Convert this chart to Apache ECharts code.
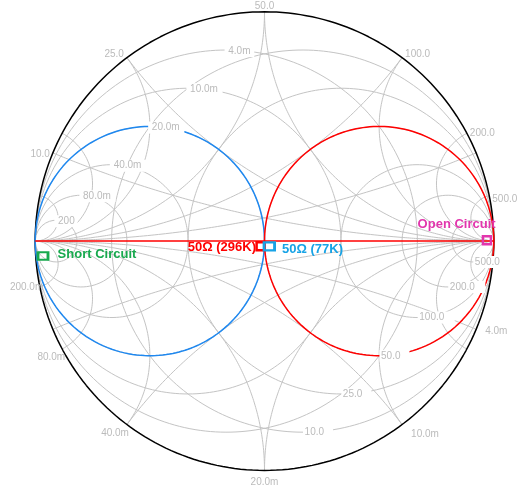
<!DOCTYPE html>
<html><head><meta charset="utf-8">
<script src="https://cdn.jsdelivr.net/npm/echarts@6/dist/echarts.min.js"></script>
<style>html,body{margin:0;padding:0;background:#fff;}#c{width:517px;height:489px;}</style>
</head><body><div id="c"></div>
<script>
// ---- data ----
const Z0 = 50;
const resistanceOhms = [10, 25, 50, 100, 200, 500];
const resistanceLabels = ['10.0', '25.0', '50.0', '100.0', '200.0', '500.0'];
const reactanceOhms = [10, 25, 50, 100, 200, 500];
const reactanceLabels = ['10.0', '25.0', '50.0', '100.0', '200.0', '500.0'];
const conductanceMilliS = [4, 10, 20, 40, 80, 200];
const conductanceLabels = ['4.0m', '10.0m', '20.0m', '40.0m', '80.0m', '200'];
const susceptanceMilliS = [4, 10, 20, 40, 80, 200];
const susceptanceLabels = ['4.0m', '10.0m', '20.0m', '40.0m', '80.0m', '200.0m'];

const redTraceResistanceOhms = 50;      // constant-R locus (red)
const redAxisResistanceOhms = [0, 1e12]; // real-axis sweep, short -> open (red)
const blueTraceConductanceMilliS = 20;  // constant-G locus (blue)

const markerNames = ['Short Circuit', 'Open Circuit', '50Ω (296K)', '50Ω (77K)'];
const markerGamma = [[-0.966, -0.065], [0.970, 0.004], [-0.017, -0.022], [0.021, -0.023]];

// ---- styles ----
const GRID = '#c4c4c4', LBL = '#bbbbbb', FONT = 'Liberation Sans, Arial, sans-serif';
const markerStyles = [
  {color: '#18a94e', size: [10, 7.5], align: 'left', offset: [14.6, -1.7]},
  {color: '#e236ad', size: [8, 8], align: 'center', offset: [-30.3, -15.3]},
  {color: '#ff0000', size: [8, 8], align: 'right', offset: [-4.6, 1.2]},
  {color: '#17a3e6', size: [10.5, 8], align: 'left', offset: [12.7, 2.9]}
];
const bottomNudge = [[9, 1.7], [9, 9.7], [0, 11.5], [2, 8.7], [3, 8.7], [3.5, 1.2]];

// ---- Smith transforms ----
const Y0m = 1000 / Z0;
function gz(r, x) { const d = (r + 1) * (r + 1) + x * x; return [(r * r - 1 + x * x) / d, 2 * x / d]; }
function gy(g, b) { const p = gz(g, b); return [-p[0], -p[1]]; }
const N = 240;
function constReal(fn, a) {
  const pts = [];
  for (let k = 0; k <= N; k++) {
    const phi = -Math.PI / 2 + Math.PI * k / N;
    const im = k === 0 ? -1e12 : (k === N ? 1e12 : Math.tan(phi));
    pts.push(fn(a, im));
  }
  return pts;
}
function constImag(fn, b) {
  const pts = [];
  for (let k = 0; k <= N; k++) {
    const t = Math.PI / 2 * k / N;
    pts.push(fn(k === N ? 1e12 : Math.tan(t), b));
  }
  return pts;
}
function line(data, color, width, z) {
  return {type: 'line', data, showSymbol: false, symbol: 'none', silent: true, animation: false,
    clip: false, z, lineStyle: {color, width, opacity: 1}};
}

const series = [];
resistanceOhms.forEach(v => series.push(line(constReal(gz, v / Z0), GRID, 1, 1)));
reactanceOhms.forEach(v => { series.push(line(constImag(gz, v / Z0), GRID, 1, 1)); series.push(line(constImag(gz, -v / Z0), GRID, 1, 1)); });
conductanceMilliS.forEach(v => series.push(line(constReal(gy, v / Y0m), GRID, 1, 1)));
susceptanceMilliS.forEach(v => { series.push(line(constImag(gy, v / Y0m), GRID, 1, 1)); series.push(line(constImag(gy, -v / Y0m), GRID, 1, 1)); });
// outer boundary r = 0
series.push(line(constReal(gz, 0), '#000000', 1.5, 2));
// traces
series.push(line(constReal(gy, blueTraceConductanceMilliS / Y0m), '#1e88f0', 1.5, 3));
series.push(line(constReal(gz, redTraceResistanceOhms / Z0), '#ff0000', 1.5, 3));
series.push(line(redAxisResistanceOhms.map(r => gz(r / Z0, 0)), '#ff0000', 1.5, 3));

// inner labels (white boxes)
const inner = [];
conductanceMilliS.forEach((v, i) => {
  const g = v / Y0m; const txt = conductanceLabels[i];
  inner.push({name: txt, value: gy(g, -(1 + g)),
    label: {align: 'left', offset: [-1.7, 1], padding: [1, 0, 1, 3.7], width: 6.5 * txt.length}});
});
resistanceOhms.forEach((v, i) => {
  const r = v / Z0; const txt = resistanceLabels[i];
  inner.push({name: txt, value: gz(r, -(1 + r)),
    label: {align: 'left', offset: [0.3, 0], padding: [1, 0, 1, 1.6], width: 7.1 * txt.length}});
});
// outer labels
const outer = [];
reactanceOhms.forEach((v, i) => {
  const p = gz(0, v / Z0); const a = Math.atan2(p[1], p[0]); const c = Math.cos(a), s = Math.sin(a);
  const align = c < -0.1 ? 'right' : (c > 0.1 ? 'left' : 'center');
  const dx = align === 'right' ? -3 : (align === 'left' ? 3 : 0);
  outer.push({name: reactanceLabels[i], value: p, label: {align, offset: [dx, 6 - 12 * s]}});
});
susceptanceMilliS.forEach((v, i) => {
  const p = gy(0, v / Y0m); const c = p[0];
  const align = c < -0.1 ? 'right' : (c > 0.1 ? 'left' : 'center');
  outer.push({name: susceptanceLabels[i], value: p, label: {align, offset: bottomNudge[i]}});
});
const lblBase = {show: true, position: 'inside', formatter: '{b}', color: LBL, fontSize: 10, fontFamily: FONT, verticalAlign: 'middle'};
series.push({type: 'scatter', data: inner, symbolSize: 1, silent: true, animation: false, clip: false, z: 5,
  itemStyle: {color: 'rgba(0,0,0,0)', opacity: 1}, label: Object.assign({}, lblBase, {backgroundColor: '#ffffff'})});
series.push({type: 'scatter', data: outer, symbolSize: 1, silent: true, animation: false, clip: false, z: 6,
  itemStyle: {color: 'rgba(0,0,0,0)', opacity: 1}, label: lblBase});

// markers
series.push({type: 'scatter', symbol: 'rect', silent: true, animation: false, clip: false, z: 8,
  data: markerNames.map((n, i) => ({name: n, value: markerGamma[i], symbolSize: markerStyles[i].size,
    itemStyle: {color: 'rgba(0,0,0,0)', borderColor: markerStyles[i].color, borderWidth: 2.5, opacity: 1},
    label: {show: true, position: 'inside', formatter: '{b}', color: markerStyles[i].color, fontSize: 13,
      fontWeight: 'bold', fontFamily: FONT, align: markerStyles[i].align, verticalAlign: 'middle',
      offset: markerStyles[i].offset}}))});

const chart = echarts.init(document.getElementById('c'), null, {renderer: 'canvas'});
chart.setOption({
  animation: false,
  backgroundColor: '#ffffff',
  grid: {left: 35.2, top: 11.8, width: 458.6, height: 458.6, containLabel: false},
  xAxis: {type: 'value', min: -1, max: 1, show: false},
  yAxis: {type: 'value', min: -1, max: 1, show: false},
  series
});
</script></body></html>
